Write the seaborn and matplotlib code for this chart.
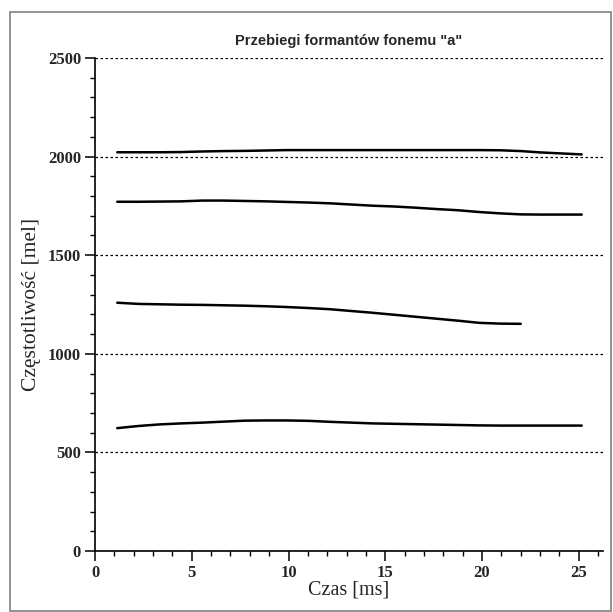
import matplotlib
matplotlib.use("Agg")
import matplotlib.pyplot as plt
import seaborn as sns
import pandas as pd
import numpy as np
from matplotlib.ticker import MultipleLocator
from matplotlib.patches import Rectangle

# Data
time_ms = [1.15, 2.25, 3.35, 4.45, 5.55, 6.65, 7.75, 8.85, 9.95, 11.05, 12.15,
           13.25, 14.35, 15.45, 16.55, 17.65, 18.75, 19.85, 20.95, 22.0, 23.05,
           24.1, 25.15]
f1 = [623, 634, 642, 647, 651, 656, 661, 662, 662, 660, 655, 651, 647, 645,
      643, 641, 639, 637, 636, 636, 636, 636, 636]
f2 = [1259, 1253, 1251, 1249, 1248, 1246, 1244, 1241, 1237, 1232, 1226, 1217,
      1208, 1198, 1188, 1178, 1168, 1157, 1153, 1152]
f3 = [1771, 1771, 1772, 1773, 1777, 1777, 1775, 1773, 1770, 1767, 1763, 1757,
      1751, 1747, 1741, 1734, 1728, 1719, 1712, 1707, 1706, 1706, 1706]
f4 = [2022, 2022, 2022, 2023, 2026, 2028, 2029, 2031, 2033, 2033, 2033, 2033,
      2033, 2033, 2033, 2033, 2033, 2033, 2032, 2028, 2021, 2016, 2011]
formant_names = ["F1", "F2", "F3", "F4"]
y_ticks = [0, 500, 1000, 1500, 2000, 2500]
x_ticks = [0, 5, 10, 15, 20, 25]

title = 'Przebiegi formantów fonemu "a"'
xlabel = "Czas [ms]"
ylabel = "Częstotliwość [mel]"

rows = []
for name, vals in zip(formant_names, [f1, f2, f3, f4]):
    for t, v in zip(time_ms, vals):
        rows.append({"t": t, "f": v, "formant": name})
df = pd.DataFrame(rows)

sns.set_style("white")
fig = plt.figure(figsize=(6.13, 6.12), dpi=100)
ax = fig.add_axes([95 / 613, 1 - 551 / 612, (603 - 95) / 613, (551 - 58) / 612])

sns.lineplot(data=df, x="t", y="f", hue="formant", palette=["black"] * 4,
             estimator=None, legend=False, linewidth=1.8, ax=ax)

ax.set_xlim(0, 26.25)
ax.set_ylim(0, 2500)
ax.set_xticks(x_ticks)
ax.set_yticks(y_ticks)
ax.xaxis.set_minor_locator(MultipleLocator(1))
ax.yaxis.set_minor_locator(MultipleLocator(100))

for y in y_ticks[1:]:
    ax.axhline(y, color="black", linestyle=(0, (2, 2)), linewidth=0.9, zorder=0)

for s in ["top", "right"]:
    ax.spines[s].set_visible(False)
for s in ["left", "bottom"]:
    ax.spines[s].set_color("black")
    ax.spines[s].set_linewidth(1.2)

ax.tick_params(which="major", direction="out", length=7, width=1.1, color="black",
               left=True, bottom=True, pad=3)
ax.tick_params(which="minor", direction="out", length=3.8, width=1.0, color="black",
               left=True, bottom=True)
for lab in ax.get_xticklabels() + ax.get_yticklabels():
    lab.set_fontfamily("Liberation Serif")
    lab.set_fontweight("bold")
    lab.set_fontsize(12)

ax.set_xlabel(xlabel, fontfamily="Liberation Serif", fontsize=14.5, labelpad=0)
ax.set_ylabel(ylabel, fontfamily="Liberation Serif", fontsize=15.5, labelpad=5)
ax.set_title(title, fontfamily="Liberation Sans", fontweight="bold", fontsize=10.5, pad=9)

fig.patches.append(Rectangle((10 / 613, 1 / 612), 601 / 613, 599 / 612,
                             transform=fig.transFigure, fill=False,
                             edgecolor="#808080", linewidth=1.2))

fig.savefig("out.png", dpi=100)
